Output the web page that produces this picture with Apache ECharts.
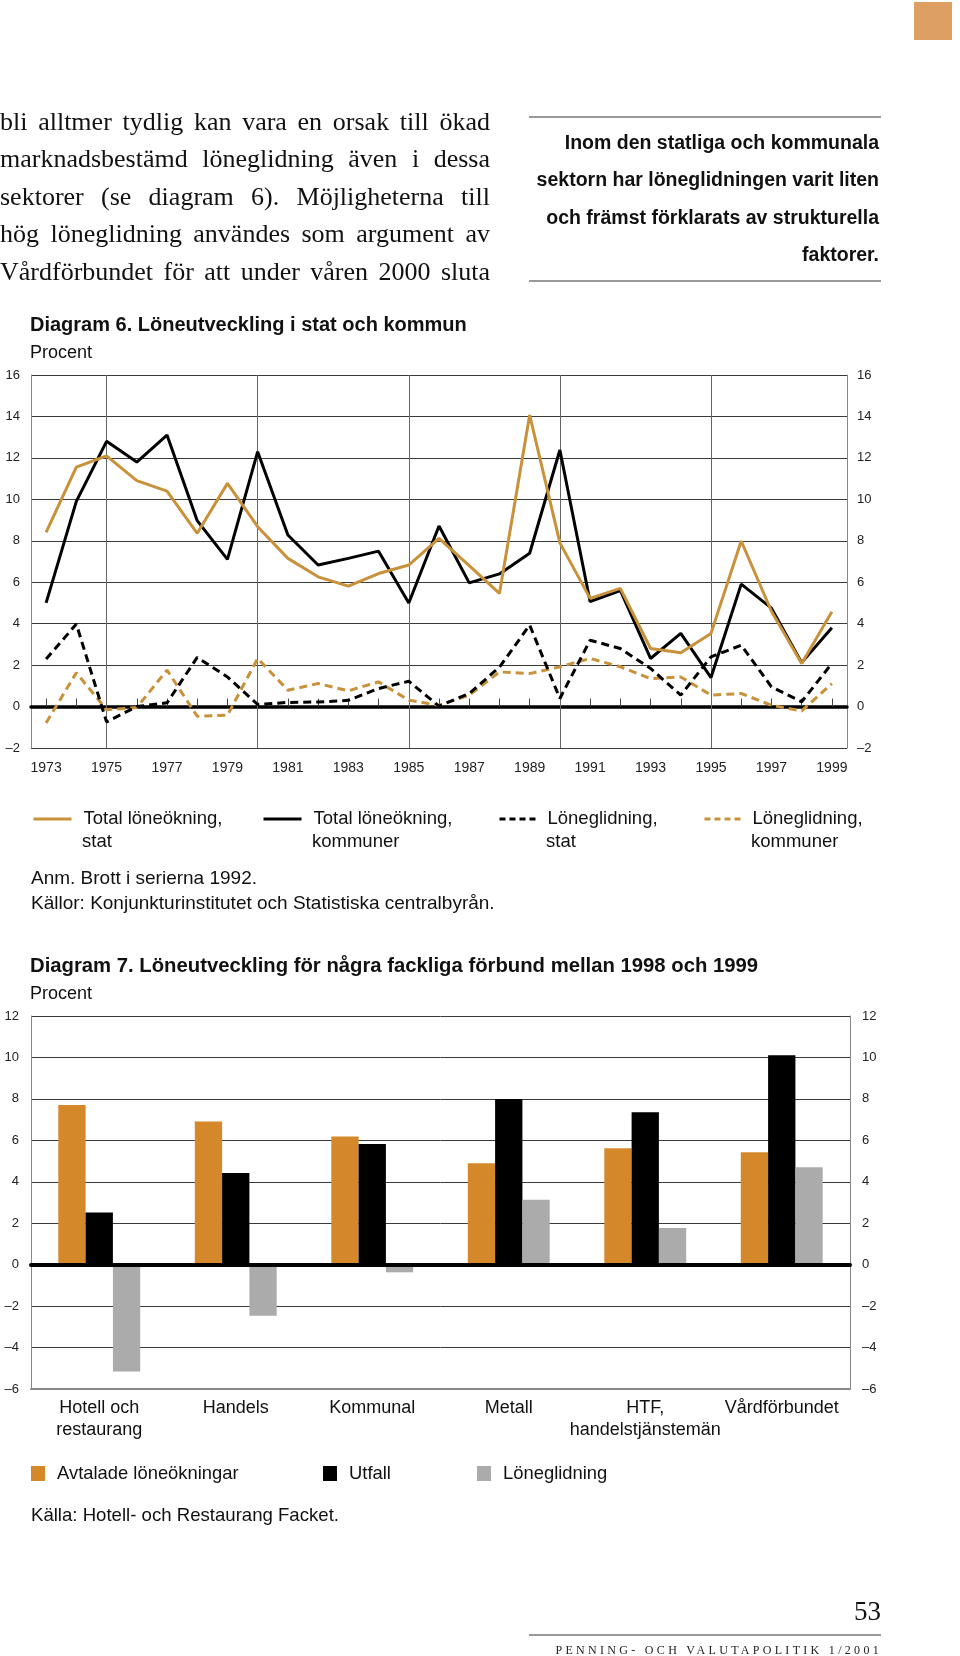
<!DOCTYPE html>
<html><head><meta charset="utf-8">
<script src="https://cdn.jsdelivr.net/npm/echarts/dist/echarts.min.js"></script>
<style>
html,body{margin:0;padding:0;background:#fff;}
#page{position:relative;width:960px;height:1656px;overflow:hidden;background:#fff;}
#chart{position:absolute;left:0;top:0;width:960px;height:1656px;}
.sq{position:absolute;left:914px;top:2px;width:38px;height:38px;background:#DEA062;}
.body{position:absolute;left:0;top:102.5px;width:490px;font-family:"Liberation Serif","Times New Roman",serif;font-size:26px;line-height:37.5px;color:#111;}
.body div{text-align:justify;text-align-last:justify;}
.rule{position:absolute;left:529px;width:352px;height:2px;background:#999;}
.side{position:absolute;left:529px;top:124px;width:350px;text-align:right;font-family:"Liberation Sans",Arial,sans-serif;font-weight:bold;font-size:19.5px;line-height:37.4px;color:#111;}
.pnum{position:absolute;right:79px;top:1598px;font-family:"Liberation Serif",serif;font-size:27px;line-height:27px;color:#111;}
.foot{position:absolute;right:78px;top:1644px;font-family:"Liberation Serif",serif;font-size:12px;line-height:12px;letter-spacing:3.3px;color:#222;}
</style></head>
<body>
<div id="page">
  <div id="chart"></div>
  <div class="sq"></div>
  <div class="body">
    <div>bli alltmer tydlig kan vara en orsak till ökad</div>
    <div>marknadsbestämd löneglidning även i dessa</div>
    <div>sektorer (se diagram 6). Möjligheterna till</div>
    <div>hög löneglidning användes som argument av</div>
    <div>Vårdförbundet för att under våren 2000 sluta</div>
  </div>
  <div class="rule" style="top:116px"></div>
  <div class="side">Inom den statliga och kommunala<br>sektorn har löneglidningen varit liten<br>och främst förklarats av strukturella<br>faktorer.</div>
  <div class="rule" style="top:280px"></div>
  <div class="pnum">53</div>
  <div class="rule" style="top:1634px"></div>
  <div class="foot">PENNING- OCH VALUTAPOLITIK 1/2001</div>
</div>
<script>
// ---------- Diagram 6 data ----------
const years = ['1973','1974','1975','1976','1977','1978','1979','1980','1981','1982','1983','1984','1985','1986','1987','1988','1989','1990','1991','1992','1993','1994','1995','1996','1997','1998','1999'];
const totalStat   = [8.4, 11.55, 12.1, 10.9, 10.4, 8.36, 10.77, 8.68, 7.15, 6.26, 5.81, 6.42, 6.83, 8.12, 6.8, 5.46, 14.07, 7.9, 5.22, 5.7, 2.8, 2.6, 3.53, 7.99, 4.6, 2.08, 4.57];
const totalKommun = [5.0, 9.9, 12.8, 11.8, 13.1, 8.97, 7.1, 12.3, 8.28, 6.83, 7.15, 7.5, 5.0, 8.71, 5.97, 6.4, 7.4, 12.38, 5.06, 5.6, 2.32, 3.53, 1.4, 5.91, 4.75, 2.12, 3.8];
const glidStat    = [2.29, 3.98, -0.74, 0.0, 0.18, 2.37, 1.43, 0.1, 0.2, 0.22, 0.3, 0.87, 1.22, 0.02, 0.63, 1.9, 3.93, 0.39, 3.2, 2.8, 1.84, 0.55, 2.4, 2.96, 0.95, 0.23, 2.08];
const glidKommun  = [-0.79, 1.63, -0.15, -0.05, 1.76, -0.47, -0.42, 2.32, 0.79, 1.11, 0.76, 1.19, 0.31, 0.06, 0.55, 1.67, 1.59, 1.92, 2.32, 1.92, 1.35, 1.43, 0.55, 0.63, 0.06, -0.21, 1.11];
const gridYears = ['1975','1980','1985','1990','1995'];
const names6 = ['Total löneökning,\nstat','Total löneökning,\nkommuner','Löneglidning,\nstat','Löneglidning,\nkommuner'];
const y6 = {min:-2, max:16, interval:2};

// ---------- Diagram 7 data ----------
const unions = ['Hotell och\nrestaurang','Handels','Kommunal','Metall','HTF,\nhandelstjänstemän','Vårdförbundet'];
const avtalade     = [7.71, 6.91, 6.18, 4.9, 5.62, 5.43];
const utfall       = [2.52, 4.42, 5.82, 8.0, 7.36, 10.1];
const loneglidning = [-5.16, -2.46, -0.37, 3.13, 1.77, 4.7];
const names7 = ['Avtalade löneökningar','Utfall','Löneglidning'];
const y7 = {min:-6, max:12, interval:2};

const FONT = '"Liberation Sans", Arial, Helvetica, sans-serif';
const ORANGE_LINE = '#C8913A';
const ORANGE_BAR = '#D4882A';
const GRAY_BAR = '#ABABAB';
const fmt = v => v < 0 ? '\u2013' + Math.abs(v) : String(v);
const legend6Left  = [32, 262, 498, 703];
const legend6Width = [38, 38, 36, 36];

function yAx(grid, pos, sc, split, margin){
  return {type:'value', gridIndex:grid, position:pos, min:sc.min, max:sc.max, interval:sc.interval,
    axisLine:{show:true, lineStyle:{color:'#888', width:1}},
    axisTick:{show:false},
    axisLabel:{formatter:fmt, fontSize:13, color:'#222', margin:margin, fontFamily:FONT, showMinLabel:true, showMaxLabel:true},
    splitLine:{show:split, lineStyle:{color:'#3a3a3a', width:1}}};
}
function lg6(i){
  const dashed = i >= 2;
  return {data:[names6[i]], left:legend6Left[i], top:808, padding:0, itemWidth:legend6Width[i], itemHeight:14, itemGap:0, selectedMode:false,
    formatter: n => n.split('\n')[0],
    lineStyle:{width:3, type: dashed ? [6,4] : 'solid'},
    itemStyle:{color:'rgba(0,0,0,0)', borderColor:'rgba(0,0,0,0)', borderWidth:0, opacity:0},
    textStyle:{fontFamily:FONT, fontSize:18.5, lineHeight:22, color:'#111', padding:[0,0,0,7]}};
}
function lg7(name, left){
  return {data:[name], left:left, top:1464.5, padding:0, itemWidth:14, itemHeight:15, itemGap:0, icon:'rect', selectedMode:false,
    textStyle:{fontFamily:FONT, fontSize:18.4, lineHeight:18, color:'#111', padding:[0,0,0,7]}};
}
function txt(x, y, s, font){
  return {type:'text', x:x, y:y, silent:true, style:{text:s, font:font, fill:'#111', verticalAlign:'middle'}};
}

const chart = echarts.init(document.getElementById('chart'), null, {renderer:'canvas'});
chart.setOption({
  animation:false,
  textStyle:{fontFamily:FONT},
  grid:[{left:31, top:375, width:816, height:373}, {left:31, top:1016, width:819, height:373}],
  xAxis:[
    {gridIndex:0, type:'category', data:years, position:'bottom',
      axisLine:{show:false, onZero:false}, axisTick:{show:false},
      axisLabel:{interval:1, fontSize:14, lineHeight:16, margin:12, color:'#222', fontFamily:FONT}, splitLine:{show:false}},
    {gridIndex:0, type:'category', data:years, position:'top',
      axisLine:{show:true, onZero:true, lineStyle:{color:'#000', width:3.5}},
      axisTick:{show:true, interval:0, alignWithLabel:true, length:8, inside:false, lineStyle:{color:'#444', width:1}},
      axisLabel:{show:false}, splitLine:{show:false}},
    {gridIndex:1, type:'category', data:unions, position:'bottom',
      axisLine:{show:true, onZero:false, lineStyle:{color:'#888', width:2}}, axisTick:{show:false},
      axisLabel:{interval:0, fontSize:18, lineHeight:22, margin:8, color:'#111', fontFamily:FONT}, splitLine:{show:false}},
    {gridIndex:1, type:'category', data:unions, position:'top', z:10,
      axisLine:{show:true, onZero:true, lineStyle:{color:'#000', width:4}}, axisTick:{show:false},
      axisLabel:{show:false}, splitLine:{show:false}}
  ],
  yAxis:[
    yAx(0,'left',y6,true,11), yAx(0,'right',y6,false,10),
    yAx(1,'left',y7,true,12), yAx(1,'right',y7,false,12)
  ],
  legend:[
    lg6(0), lg6(1), lg6(2), lg6(3),
    lg7(names7[0],31), lg7(names7[1],323), lg7(names7[2],477)
  ],
  series:[
    {name:names6[3], type:'line', xAxisIndex:0, yAxisIndex:0, data:glidKommun, symbol:'none',
      lineStyle:{color:ORANGE_LINE, width:3, type:[8,5]}, itemStyle:{color:ORANGE_LINE},
      markLine:{silent:true, symbol:'none', z:1, label:{show:false},
        lineStyle:{color:'#666', width:1, type:'solid'},
        data:gridYears.map(y => ({xAxis:y}))}},
    {name:names6[2], type:'line', xAxisIndex:0, yAxisIndex:0, data:glidStat, symbol:'none',
      lineStyle:{color:'#000', width:3, type:[8,5]}, itemStyle:{color:'#000'}},
    {name:names6[1], type:'line', xAxisIndex:0, yAxisIndex:0, data:totalKommun, symbol:'none',
      lineStyle:{color:'#000', width:3}, itemStyle:{color:'#000'}},
    {name:names6[0], type:'line', xAxisIndex:0, yAxisIndex:0, data:totalStat, symbol:'none',
      lineStyle:{color:ORANGE_LINE, width:3}, itemStyle:{color:ORANGE_LINE}},
    {name:names7[0], type:'bar', xAxisIndex:2, yAxisIndex:2, data:avtalade, barGap:0, barCategoryGap:'40%', itemStyle:{color:ORANGE_BAR}},
    {name:names7[1], type:'bar', xAxisIndex:2, yAxisIndex:2, data:utfall, barGap:0, barCategoryGap:'40%', itemStyle:{color:'#000'}},
    {name:names7[2], type:'bar', xAxisIndex:2, yAxisIndex:2, data:loneglidning, barGap:0, barCategoryGap:'40%', itemStyle:{color:GRAY_BAR}}
  ],
  graphic:[
    txt(30, 325, 'Diagram 6. Löneutveckling i stat och kommun', 'bold 20px ' + FONT),
    txt(30, 353.5, 'Procent', '18px ' + FONT),
    // second lines of the diagram 6 legend entries
    ...[0,1,2,3].map(i => txt(legend6Left[i] + legend6Width[i] + 12, 842, names6[i].split('\n')[1], '18.5px ' + FONT)),
    txt(31, 879, 'Anm. Brott i serierna 1992.', '19px ' + FONT),
    txt(31, 904, 'Källor: Konjunkturinstitutet och Statistiska centralbyrån.', '19px ' + FONT),
    txt(30, 966, 'Diagram 7. Löneutveckling för några fackliga förbund mellan 1998 och 1999', 'bold 20.3px ' + FONT),
    txt(30, 994, 'Procent', '18px ' + FONT),
    txt(31, 1516, 'Källa: Hotell- och Restaurang Facket.', '18.6px ' + FONT)
  ]
});
</script>
</body></html>
